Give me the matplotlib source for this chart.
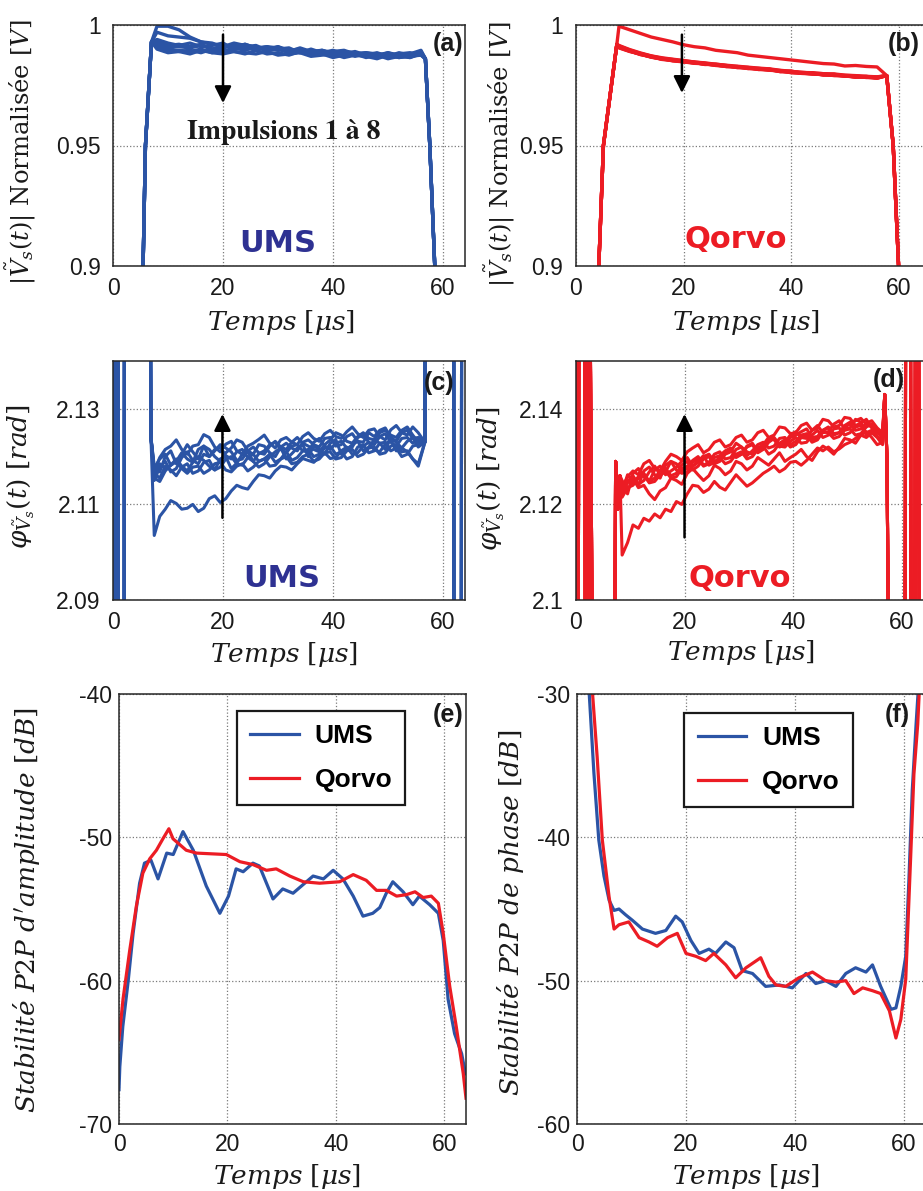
import numpy as np
import matplotlib
matplotlib.use('Agg')
import matplotlib.pyplot as plt

plt.rcParams['font.family'] = 'Liberation Sans'
plt.rcParams['mathtext.fontset'] = 'dejavuserif'

BLUE = '#2b54a5'
RED = '#ec1c24'
NAVY = '#2e3192'
INK = '#1a1a1a'

x_ticks = [0, 20, 40, 60]
x_tick_labels = ['0', '20', '40', '60']

# ---------------- (a) UMS amplitude, pulses 1..8 ----------------
a_rise_t = [5.3, 5.9, 7.0]
a_rise_v = [0.88, 0.95, 0.993]
a_plateau_t = np.arange(8, 57, 2)          # 8 .. 56 us
a_fall_t = [56.8, 57.6, 58.5, 58.9]
a_fall_v = [0.986, 0.95, 0.90, 0.88]

ums_amp_1 = [0.9995, 0.9995, 0.998, 0.995, 0.993,
             0.992, 0.9915, 0.991, 0.992, 0.9905,
             0.991, 0.9895, 0.990, 0.989, 0.9895,
             0.988, 0.989, 0.9885, 0.9875, 0.988,
             0.987, 0.9885, 0.9875, 0.988, 0.9895]
ums_amp_2 = [0.997, 0.9955, 0.995, 0.9945, 0.993,
             0.9925, 0.991, 0.9925, 0.9915, 0.990,
             0.991, 0.9905, 0.9895, 0.990, 0.9885,
             0.9895, 0.9885, 0.989, 0.988, 0.9885,
             0.9875, 0.9885, 0.987, 0.988, 0.9885]
ums_amp_3 = [0.993, 0.9915, 0.992, 0.991, 0.992,
             0.990, 0.9915, 0.9905, 0.992, 0.9905,
             0.990, 0.991, 0.989, 0.9905, 0.989,
             0.9885, 0.9895, 0.988, 0.989, 0.9875,
             0.9885, 0.987, 0.9885, 0.9875, 0.989]
ums_amp_4 = [0.992, 0.990, 0.989, 0.9895, 0.9885,
             0.990, 0.989, 0.9905, 0.9895, 0.991,
             0.9895, 0.990, 0.9885, 0.9895, 0.988,
             0.989, 0.9875, 0.9885, 0.987, 0.988,
             0.9865, 0.9875, 0.988, 0.9865, 0.9885]
ums_amp_5 = [0.994, 0.9925, 0.9915, 0.9925, 0.991,
             0.9915, 0.9925, 0.990, 0.991, 0.9915,
             0.9895, 0.991, 0.9895, 0.9885, 0.990,
             0.9885, 0.989, 0.9895, 0.988, 0.9885,
             0.988, 0.9865, 0.988, 0.9885, 0.9875]
ums_amp_6 = [0.991, 0.989, 0.9895, 0.989, 0.990,
             0.9885, 0.9895, 0.989, 0.988, 0.9895,
             0.988, 0.9885, 0.9875, 0.989, 0.9875,
             0.988, 0.9865, 0.9875, 0.988, 0.9865,
             0.9875, 0.986, 0.987, 0.9865, 0.988]
ums_amp_7 = [0.9935, 0.9905, 0.991, 0.9905, 0.9915,
             0.990, 0.9905, 0.9915, 0.990, 0.9905,
             0.9895, 0.990, 0.9905, 0.9885, 0.989,
             0.9895, 0.988, 0.989, 0.9885, 0.987,
             0.988, 0.9875, 0.9865, 0.9875, 0.988]
ums_amp_8 = [0.990, 0.9885, 0.989, 0.988, 0.9895,
             0.9885, 0.988, 0.989, 0.9885, 0.988,
             0.989, 0.9875, 0.988, 0.9885, 0.987,
             0.9875, 0.988, 0.9865, 0.9875, 0.987,
             0.986, 0.9875, 0.9865, 0.987, 0.9875]
ums_amp = [ums_amp_1, ums_amp_2, ums_amp_3, ums_amp_4,
           ums_amp_5, ums_amp_6, ums_amp_7, ums_amp_8]

# ---------------- (b) Qorvo amplitude ----------------
b_rise_t = [3.9, 5.1, 7.6]
b_rise_v = [0.88, 0.95, 0.992]
b_plateau_t = np.arange(8, 57, 2)
b_fall_t = [57.8, 59.0, 60.0, 60.3]
b_fall_v = [0.979, 0.95, 0.90, 0.88]

qorvo_amp_1 = [0.9995, 0.998, 0.9965, 0.995, 0.994,
               0.993, 0.9918, 0.991, 0.9905, 0.9895,
               0.989, 0.9885, 0.9875, 0.987, 0.9865,
               0.986, 0.9855, 0.985, 0.9845, 0.984,
               0.9838, 0.983, 0.9832, 0.9828, 0.9826]
qorvo_amp_2 = [0.9915, 0.9898, 0.9884, 0.9872, 0.9864,
               0.9858, 0.9853, 0.9846, 0.9843, 0.9837,
               0.9833, 0.9829, 0.9825, 0.9821, 0.9818,
               0.9812, 0.9808, 0.9803, 0.9802, 0.9798,
               0.9797, 0.9792, 0.9790, 0.9787, 0.9785]
qorvo_amp_3 = [0.9910, 0.9893, 0.9878, 0.9869, 0.9858,
               0.9853, 0.9848, 0.9843, 0.9838, 0.9834,
               0.9828, 0.9826, 0.9820, 0.9818, 0.9813,
               0.9809, 0.9803, 0.9800, 0.9799, 0.9794,
               0.9793, 0.9788, 0.9786, 0.9783, 0.9780]
qorvo_amp_4 = [0.9905, 0.9890, 0.9880, 0.9866, 0.9860,
               0.9851, 0.9847, 0.9841, 0.9839, 0.9832,
               0.9829, 0.9824, 0.9821, 0.9816, 0.9814,
               0.9807, 0.9804, 0.9799, 0.9797, 0.9795,
               0.9791, 0.9789, 0.9785, 0.9784, 0.9779]
qorvo_amp_5 = [0.9912, 0.9896, 0.9882, 0.9871, 0.9862,
               0.9856, 0.9851, 0.9847, 0.9841, 0.9836,
               0.9831, 0.9827, 0.9823, 0.9819, 0.9816,
               0.9811, 0.9806, 0.9804, 0.9800, 0.9798,
               0.9794, 0.9791, 0.9789, 0.9786, 0.9784]
qorvo_amp_6 = [0.9908, 0.9892, 0.9877, 0.9868, 0.9857,
               0.9854, 0.9849, 0.9842, 0.9840, 0.9833,
               0.9830, 0.9825, 0.9822, 0.9817, 0.9812,
               0.9810, 0.9802, 0.9801, 0.9796, 0.9796,
               0.9790, 0.9790, 0.9784, 0.9785, 0.9781]
qorvo_amp_7 = [0.9914, 0.9894, 0.9881, 0.9870, 0.9861,
               0.9852, 0.9850, 0.9844, 0.9837, 0.9835,
               0.9827, 0.9828, 0.9819, 0.9820, 0.9815,
               0.9808, 0.9807, 0.9801, 0.9798, 0.9793,
               0.9796, 0.9787, 0.9788, 0.9782, 0.9783]
qorvo_amp_8 = [0.9906, 0.9891, 0.9879, 0.9867, 0.9859,
               0.9857, 0.9846, 0.9845, 0.9836, 0.9838,
               0.9832, 0.9823, 0.9824, 0.9815, 0.9817,
               0.9806, 0.9809, 0.9800, 0.9801, 0.9792,
               0.9792, 0.9789, 0.9783, 0.9787, 0.9780]
qorvo_amp = [qorvo_amp_1, qorvo_amp_2, qorvo_amp_3, qorvo_amp_4,
             qorvo_amp_5, qorvo_amp_6, qorvo_amp_7, qorvo_amp_8]

# ---------------- (c) UMS phase ----------------
c_pre_t = [0.0, 0.15, 0.45, 0.75, 1.05, 2.0, 2.15, 6.3, 6.9]
c_pre_v = [2.0, 2.3, 2.0, 2.3, 2.0, 2.0, 2.3, 2.3, 2.124]
c_plateau_t = np.arange(7.5, 56, 1)        # 7.5 .. 55.5 us
c_post_t = [56.7, 57.3, 61.9, 62.0, 63.3, 63.45, 65.0]
c_post_v = [2.123, 2.3, 2.3, 2.0, 2.0, 2.3, 2.3]

ums_phase_1 = [2.1035, 2.1075, 2.1090, 2.1108, 2.1102,
               2.1090, 2.1092, 2.1100, 2.1085, 2.1092,
               2.1112, 2.1118, 2.1104, 2.1112, 2.1128,
               2.1140, 2.1135, 2.1132, 2.1148, 2.1162,
               2.1160, 2.1155, 2.1170, 2.1180, 2.1178,
               2.1172, 2.1185, 2.1196, 2.1192, 2.1188,
               2.1200, 2.1208, 2.1196, 2.1198, 2.1212,
               2.1220, 2.1205, 2.1208, 2.1222, 2.1230,
               2.1214, 2.1210, 2.1226, 2.1235, 2.1212,
               2.1218, 2.1232, 2.1240, 2.1220]
ums_phase_2 = [2.1170, 2.1198, 2.1215, 2.1222, 2.1235,
               2.1215, 2.1205, 2.1222, 2.1225, 2.1246,
               2.1240, 2.1220, 2.1210, 2.1226, 2.1232,
               2.1212, 2.1205, 2.1222, 2.1228, 2.1236,
               2.1245, 2.1228, 2.1218, 2.1235, 2.1240,
               2.1230, 2.1225, 2.1242, 2.1250, 2.1238,
               2.1232, 2.1248, 2.1255, 2.1242, 2.1238,
               2.1252, 2.1262, 2.1248, 2.1240, 2.1255,
               2.1258, 2.1242, 2.1235, 2.1256, 2.1265,
               2.1250, 2.1245, 2.1262, 2.1250]
ums_phase_3 = [2.1150, 2.1178, 2.1190, 2.1168, 2.1175,
               2.1198, 2.1210, 2.1192, 2.1185, 2.1205,
               2.1200, 2.1215, 2.1220, 2.1202, 2.1195,
               2.1210, 2.1215, 2.1198, 2.1190, 2.1206,
               2.1212, 2.1225, 2.1230, 2.1215, 2.1208,
               2.1222, 2.1225, 2.1212, 2.1210, 2.1230,
               2.1238, 2.1222, 2.1215, 2.1228, 2.1232,
               2.1218, 2.1220, 2.1240, 2.1245, 2.1230,
               2.1225, 2.1242, 2.1248, 2.1230, 2.1222,
               2.1238, 2.1240, 2.1228, 2.1235]
ums_phase_4 = [2.1160, 2.1185, 2.1175, 2.1182, 2.1195,
               2.1180, 2.1170, 2.1188, 2.1200, 2.1192,
               2.1180, 2.1172, 2.1195, 2.1200, 2.1175,
               2.1186, 2.1205, 2.1210, 2.1190, 2.1178,
               2.1185, 2.1200, 2.1210, 2.1218, 2.1195,
               2.1206, 2.1218, 2.1225, 2.1200, 2.1222,
               2.1215, 2.1205, 2.1228, 2.1236, 2.1205,
               2.1215, 2.1225, 2.1232, 2.1212, 2.1220,
               2.1235, 2.1228, 2.1215, 2.1238, 2.1230,
               2.1218, 2.1210, 2.1195, 2.1180]
ums_phase_5 = [2.1180, 2.1168, 2.1200, 2.1212, 2.1185,
               2.1205, 2.1225, 2.1210, 2.1195, 2.1222,
               2.1215, 2.1200, 2.1190, 2.1208, 2.1218,
               2.1235, 2.1230, 2.1212, 2.1205, 2.1225,
               2.1222, 2.1208, 2.1200, 2.1220, 2.1228,
               2.1218, 2.1212, 2.1230, 2.1235, 2.1225,
               2.1220, 2.1238, 2.1240, 2.1222, 2.1225,
               2.1242, 2.1248, 2.1232, 2.1230, 2.1250,
               2.1242, 2.1255, 2.1260, 2.1240, 2.1232,
               2.1250, 2.1255, 2.1238, 2.1240]
ums_phase_6 = [2.1165, 2.1155, 2.1180, 2.1172, 2.1160,
               2.1178, 2.1185, 2.1165, 2.1170, 2.1188,
               2.1192, 2.1172, 2.1178, 2.1195, 2.1200,
               2.1185, 2.1182, 2.1198, 2.1205, 2.1190,
               2.1195, 2.1205, 2.1188, 2.1195, 2.1210,
               2.1192, 2.1198, 2.1212, 2.1215, 2.1200,
               2.1205, 2.1218, 2.1222, 2.1205, 2.1210,
               2.1195, 2.1200, 2.1220, 2.1225, 2.1208,
               2.1212, 2.1228, 2.1230, 2.1212, 2.1218,
               2.1200, 2.1205, 2.1222, 2.1225]
ums_phase_7 = [2.1175, 2.1195, 2.1205, 2.1182, 2.1190,
               2.1208, 2.1195, 2.1188, 2.1215, 2.1222,
               2.1200, 2.1212, 2.1225, 2.1218, 2.1210,
               2.1192, 2.1195, 2.1212, 2.1220, 2.1208,
               2.1205, 2.1222, 2.1232, 2.1220, 2.1215,
               2.1230, 2.1240, 2.1228, 2.1222, 2.1215,
               2.1210, 2.1225, 2.1235, 2.1250, 2.1245,
               2.1232, 2.1228, 2.1242, 2.1250, 2.1238,
               2.1235, 2.1250, 2.1255, 2.1245, 2.1240,
               2.1255, 2.1262, 2.1245, 2.1230]
ums_phase_8 = [2.1155, 2.1148, 2.1170, 2.1182, 2.1190,
               2.1175, 2.1165, 2.1178, 2.1180, 2.1165,
               2.1172, 2.1185, 2.1188, 2.1172, 2.1168,
               2.1180, 2.1185, 2.1170, 2.1178, 2.1190,
               2.1195, 2.1180, 2.1182, 2.1195, 2.1200,
               2.1185, 2.1188, 2.1200, 2.1205, 2.1190,
               2.1195, 2.1208, 2.1210, 2.1195, 2.1198,
               2.1212, 2.1215, 2.1200, 2.1205, 2.1218,
               2.1220, 2.1205, 2.1208, 2.1222, 2.1225,
               2.1210, 2.1212, 2.1195, 2.1185]
ums_phase = [ums_phase_1, ums_phase_2, ums_phase_3, ums_phase_4,
             ums_phase_5, ums_phase_6, ums_phase_7, ums_phase_8]

# ---------------- (d) Qorvo phase ----------------
d_pre_t = [0.0, 0.1, 0.35, 0.6, 1.6, 1.75, 2.3, 2.4, 3.2, 7.0, 7.3, 7.7, 8.1]
d_pre_v = [2.05, 2.2, 2.05, 2.2, 2.2, 2.05, 2.05, 2.2, 2.05, 2.05, 2.129, 2.119, 2.126]
d_plateau_t = np.arange(8.5, 57, 1)        # 8.5 .. 56.5 us
d_post_t = [56.9, 57.3, 57.9, 60.6, 60.8, 61.6, 61.8, 62.4, 62.6, 63.1, 63.3, 65.0]
d_post_v = [2.143, 2.13, 2.05, 2.05, 2.2, 2.2, 2.05, 2.05, 2.2, 2.2, 2.05, 2.05]

qorvo_phase_1 = [2.1094, 2.1120, 2.1157, 2.1150, 2.1171,
                 2.1165, 2.1180, 2.1172, 2.1190, 2.1185,
                 2.1206, 2.1200, 2.1222, 2.1240, 2.1238,
                 2.1225, 2.1232, 2.1248, 2.1236, 2.1230,
                 2.1246, 2.1262, 2.1250, 2.1238, 2.1245,
                 2.1255, 2.1265, 2.1272, 2.1280, 2.1268,
                 2.1275, 2.1288, 2.1290, 2.1282, 2.1292,
                 2.1305, 2.1318, 2.1312, 2.1320, 2.1310,
                 2.1316, 2.1325, 2.1330, 2.1338, 2.1345,
                 2.1340, 2.1350, 2.1355, 2.1340]
qorvo_phase_2 = [2.1220, 2.1245, 2.1255, 2.1235, 2.1240,
                 2.1222, 2.1210, 2.1228, 2.1235, 2.1255,
                 2.1250, 2.1242, 2.1265, 2.1275, 2.1262,
                 2.1250, 2.1260, 2.1282, 2.1275, 2.1262,
                 2.1270, 2.1290, 2.1285, 2.1272, 2.1280,
                 2.1298, 2.1290, 2.1282, 2.1295, 2.1308,
                 2.1290, 2.1298, 2.1305, 2.1315, 2.1300,
                 2.1292, 2.1310, 2.1322, 2.1315, 2.1305,
                 2.1320, 2.1338, 2.1335, 2.1328, 2.1345,
                 2.1352, 2.1340, 2.1325, 2.1330]
qorvo_phase_3 = [2.1235, 2.1258, 2.1270, 2.1262, 2.1285,
                 2.1292, 2.1275, 2.1270, 2.1290, 2.1305,
                 2.1300, 2.1292, 2.1310, 2.1318, 2.1325,
                 2.1308, 2.1315, 2.1330, 2.1335, 2.1320,
                 2.1325, 2.1340, 2.1345, 2.1330, 2.1335,
                 2.1350, 2.1355, 2.1340, 2.1345, 2.1362,
                 2.1360, 2.1348, 2.1350, 2.1365, 2.1370,
                 2.1355, 2.1360, 2.1378, 2.1375, 2.1362,
                 2.1365, 2.1382, 2.1380, 2.1365, 2.1370,
                 2.1378, 2.1360, 2.1350, 2.1345]
qorvo_phase_4 = [2.1250, 2.1232, 2.1245, 2.1258, 2.1265,
                 2.1248, 2.1255, 2.1270, 2.1275, 2.1260,
                 2.1265, 2.1282, 2.1290, 2.1272, 2.1280,
                 2.1295, 2.1300, 2.1285, 2.1290, 2.1305,
                 2.1310, 2.1328, 2.1320, 2.1310, 2.1305,
                 2.1318, 2.1325, 2.1340, 2.1335, 2.1322,
                 2.1320, 2.1332, 2.1340, 2.1328, 2.1330,
                 2.1345, 2.1355, 2.1340, 2.1345, 2.1358,
                 2.1360, 2.1345, 2.1350, 2.1362, 2.1365,
                 2.1350, 2.1355, 2.1342, 2.1335]
qorvo_phase_5 = [2.1230, 2.1248, 2.1260, 2.1242, 2.1250,
                 2.1268, 2.1280, 2.1262, 2.1268, 2.1290,
                 2.1285, 2.1270, 2.1275, 2.1292, 2.1300,
                 2.1282, 2.1288, 2.1305, 2.1310, 2.1295,
                 2.1298, 2.1315, 2.1320, 2.1302, 2.1312,
                 2.1325, 2.1330, 2.1318, 2.1322, 2.1338,
                 2.1340, 2.1325, 2.1332, 2.1345, 2.1348,
                 2.1335, 2.1340, 2.1355, 2.1360, 2.1345,
                 2.1350, 2.1365, 2.1372, 2.1355, 2.1358,
                 2.1370, 2.1375, 2.1360, 2.1350]
qorvo_phase_6 = [2.1215, 2.1235, 2.1240, 2.1255, 2.1262,
                 2.1245, 2.1248, 2.1262, 2.1270, 2.1255,
                 2.1258, 2.1275, 2.1280, 2.1288, 2.1295,
                 2.1280, 2.1285, 2.1298, 2.1302, 2.1312,
                 2.1318, 2.1300, 2.1305, 2.1320, 2.1325,
                 2.1308, 2.1315, 2.1330, 2.1338, 2.1320,
                 2.1325, 2.1340, 2.1345, 2.1352, 2.1358,
                 2.1340, 2.1342, 2.1355, 2.1362, 2.1348,
                 2.1350, 2.1362, 2.1368, 2.1375, 2.1380,
                 2.1368, 2.1362, 2.1350, 2.1340]
qorvo_phase_7 = [2.1240, 2.1222, 2.1265, 2.1275, 2.1258,
                 2.1248, 2.1272, 2.1280, 2.1262, 2.1270,
                 2.1278, 2.1290, 2.1298, 2.1280, 2.1288,
                 2.1300, 2.1305, 2.1290, 2.1295, 2.1310,
                 2.1315, 2.1298, 2.1305, 2.1322, 2.1328,
                 2.1310, 2.1318, 2.1335, 2.1340, 2.1325,
                 2.1330, 2.1345, 2.1352, 2.1340, 2.1338,
                 2.1355, 2.1365, 2.1350, 2.1352, 2.1368,
                 2.1375, 2.1358, 2.1360, 2.1378, 2.1372,
                 2.1345, 2.1350, 2.1340, 2.1325]
qorvo_phase_8 = [2.1225, 2.1262, 2.1250, 2.1240, 2.1270,
                 2.1278, 2.1262, 2.1255, 2.1282, 2.1290,
                 2.1272, 2.1265, 2.1268, 2.1280, 2.1290,
                 2.1302, 2.1282, 2.1288, 2.1298, 2.1285,
                 2.1290, 2.1305, 2.1310, 2.1295, 2.1300,
                 2.1315, 2.1322, 2.1305, 2.1312, 2.1328,
                 2.1335, 2.1320, 2.1325, 2.1340, 2.1345,
                 2.1330, 2.1335, 2.1352, 2.1350, 2.1338,
                 2.1342, 2.1355, 2.1358, 2.1345, 2.1348,
                 2.1362, 2.1368, 2.1352, 2.1345]
qorvo_phase = [qorvo_phase_1, qorvo_phase_2, qorvo_phase_3, qorvo_phase_4,
               qorvo_phase_5, qorvo_phase_6, qorvo_phase_7, qorvo_phase_8]

# ---------------- (e) P2P amplitude stability ----------------
ums_p2p_amp_t = [0.0, 0.15, 0.7, 1.7, 2.6, 3.8, 4.7, 5.9, 7.2, 8.8,
                 10.0, 11.8, 13.7, 16.1, 18.6, 20.2, 21.6, 22.9, 24.7, 25.9,
                 28.4, 30.2, 32.1, 35.8, 37.7, 39.5, 41.3, 43.2, 45.0, 46.8,
                 48.1, 49.3, 50.5, 52.4, 54.2, 55.4, 57.3, 58.9, 59.8, 60.7,
                 61.9, 63.2, 63.9]
ums_p2p_amp = [-67.6, -66.0, -63.2, -60.0, -56.7, -53.2, -51.8, -51.6, -52.9, -51.1,
               -51.2, -49.6, -50.9, -53.4, -55.3, -54.1, -52.2, -52.4, -51.8, -52.0,
               -54.3, -53.6, -53.9, -52.7, -52.9, -52.3, -52.9, -54.1, -55.5, -55.3,
               -54.9, -53.9, -53.1, -53.8, -54.7, -54.1, -54.7, -55.3, -57.2, -61.3,
               -63.7, -65.1, -66.5]
qorvo_p2p_amp_t = [0.0, 0.74, 1.97, 3.2, 4.4, 5.66, 6.9, 8.1, 9.2, 9.96,
                   12.4, 14.3, 19.8, 22.3, 24.7, 27.2, 29.0, 31.5, 34.0, 37.0,
                   40.7, 43.2, 45.6, 47.5, 49.3, 51.2, 53.0, 54.6, 56.1, 57.6,
                   58.9, 59.8, 61.0, 62.2, 63.5, 64.0]
qorvo_p2p_amp = [-64.1, -61.3, -57.9, -54.8, -52.5, -51.5, -50.9, -50.1, -49.4, -50.1,
                 -50.9, -51.1, -51.2, -51.7, -51.9, -52.3, -52.2, -52.7, -53.1, -53.2,
                 -53.1, -52.6, -53.0, -53.7, -53.7, -54.1, -54.0, -53.8, -54.2, -54.1,
                 -54.6, -56.7, -60.4, -63.2, -66.5, -68.2]

# ---------------- (f) P2P phase stability ----------------
ums_p2p_phase_t = [1.9, 2.2, 3.1, 4.0, 4.95, 5.9, 6.8, 7.7, 8.9, 10.2,
                   12.0, 14.4, 16.3, 18.1, 19.3, 20.9, 22.4, 24.2, 25.4, 27.3,
                   28.8, 30.3, 32.2, 34.6, 37.1, 39.5, 42.0, 43.8, 45.6, 47.5,
                   49.3, 51.1, 53.0, 54.2, 55.7, 57.6, 58.5, 59.4, 60.3, 60.9,
                   61.5, 62.2, 62.6, 62.8]
ums_p2p_phase = [-27.0, -29.7, -35.5, -40.2, -42.7, -44.4, -45.1, -45.0, -45.4, -45.8,
                 -46.4, -46.7, -46.5, -45.5, -45.9, -47.2, -48.1, -47.8, -48.1, -47.3,
                 -47.7, -49.3, -49.5, -50.4, -50.3, -50.5, -49.5, -50.2, -50.0, -50.4,
                 -49.5, -49.1, -49.4, -48.9, -50.4, -52.0, -51.9, -50.4, -48.3, -42.8,
                 -36.7, -32.1, -29.7, -27.0]
qorvo_p2p_phase_t = [2.5, 2.8, 3.7, 4.65, 5.9, 6.8, 7.7, 9.5, 11.4, 13.2,
                     14.7, 16.6, 18.4, 20.0, 21.8, 23.6, 25.1, 27.3, 29.1, 31.0,
                     33.7, 35.2, 36.5, 38.3, 40.7, 43.2, 45.6, 47.5, 49.3, 50.8,
                     52.4, 54.2, 55.7, 57.3, 58.5, 59.4, 60.3, 61.2, 61.8, 62.5,
                     62.8, 63.0]
qorvo_p2p_phase = [-27.0, -29.7, -34.4, -40.2, -44.2, -46.4, -46.1, -45.9, -47.0, -47.3,
                   -47.6, -47.0, -46.7, -48.1, -48.3, -48.6, -48.1, -48.9, -49.8, -49.1,
                   -48.4, -49.7, -50.3, -50.4, -49.8, -49.4, -50.0, -50.1, -50.0, -50.9,
                   -50.5, -50.7, -50.9, -52.1, -54.0, -52.7, -49.9, -41.4, -35.6, -32.1,
                   -29.7, -27.0]

# ---------------- figure ----------------
fig = plt.figure(figsize=(9.23, 11.91), dpi=100)
W, H = 923.0, 1191.0


def add_axes(left, top, right, bottom):
    # pixel box of the reference -> figure fraction
    return fig.add_axes([left / W, 1 - bottom / H, (right - left) / W, (bottom - top) / H])


def style(ax, xlim, ylim, yticks, ylabels, ypad, xpad):
    ax.set_xlim(*xlim)
    ax.set_ylim(*ylim)
    ax.set_xticks(x_ticks)
    ax.set_xticklabels(x_tick_labels)
    ax.set_yticks(yticks)
    ax.set_yticklabels(ylabels)
    ax.grid(True, linestyle=':', color='#7a7a7a', linewidth=0.9)
    ax.tick_params(length=0, labelsize=16.5, colors=INK)
    ax.tick_params(axis='y', pad=ypad)
    ax.tick_params(axis='x', pad=xpad)
    for sp in ax.spines.values():
        sp.set_linewidth(1.1)
        sp.set_color('#262626')


def axis_labels(ax, xlabel, ylabel, xpos, ypos, ysize=19):
    ax.set_xlabel(xlabel, fontsize=19, family='DejaVu Serif', color=INK)
    ax.set_ylabel(ylabel, fontsize=ysize, family='DejaVu Serif', color=INK)
    ax.xaxis.set_label_coords(*xpos)
    ax.yaxis.set_label_coords(*ypos)


def arrow(ax, tail, tip):
    ax.annotate('', xy=tip, xytext=tail,
                arrowprops=dict(arrowstyle='-|>,head_length=0.5,head_width=0.25',
                                color='black', lw=1.8, mutation_scale=20,
                                shrinkA=0, shrinkB=0))


def panel_tag(ax, tag, x, y):
    ax.text(x, y, tag, transform=ax.transAxes, ha='right', va='center',
            fontsize=18, fontweight='bold', color=INK)


def brand(ax, label, x, y, color):
    ax.text(x, y, label, ha='center', va='baseline', fontsize=22,
            family='DejaVu Sans', fontweight='bold', color=color)


xlab = r'$Temps\ [\mu s]$'
amp_lab = r'$|\tilde{V}_s(t)|$ Normalisée $[V]$'
phase_lab = r'$\varphi_{\tilde{V}_s}(t)\ [rad]$'

ax_a = add_axes(113, 25, 465, 266)
ax_b = add_axes(576, 25, 926, 266)
ax_c = add_axes(113, 361, 465, 600)
ax_d = add_axes(576, 361, 926, 600)
ax_e = add_axes(119, 694, 466, 1124)
ax_f = add_axes(577, 694, 927, 1124)

# (a)
t = np.concatenate([a_rise_t, a_plateau_t, a_fall_t])
for v in ums_amp:
    ax_a.plot(t, np.concatenate([a_rise_v, v, a_fall_v]), color=BLUE, lw=2.4)
style(ax_a, (0, 64), (0.9, 1.0), [0.9, 0.95, 1.0], ['0.9', '0.95', '1'], 9, 8)
axis_labels(ax_a, xlab, amp_lab, (0.477, -0.174), (-0.213, 0.47), 17.5)
arrow(ax_a, (20, 0.996), (20, 0.9676))
ax_a.text(31.0, 0.9526, 'Impulsions 1 à 8', ha='center', va='baseline',
          family='STIXGeneral', fontweight='bold', fontsize=20, color=INK)
brand(ax_a, 'UMS', 30.0, 0.9059, NAVY)
panel_tag(ax_a, '(a)', 0.995, 0.92)

# (b)
t = np.concatenate([b_rise_t, b_plateau_t, b_fall_t])
for v in qorvo_amp:
    ax_b.plot(t, np.concatenate([b_rise_v, v, b_fall_v]), color=RED, lw=2.4)
style(ax_b, (0, 65.1), (0.9, 1.0), [0.9, 0.95, 1.0], ['0.9', '0.95', '1'], 9, 8)
axis_labels(ax_b, xlab, amp_lab, (0.485, -0.174), (-0.169, 0.465), 17.5)
arrow(ax_b, (19.7, 0.996), (19.7, 0.9718))
brand(ax_b, 'Qorvo', 29.7, 0.9073, RED)
panel_tag(ax_b, '(b)', 0.983, 0.92)

# (c)
t = np.concatenate([c_pre_t, c_plateau_t, c_post_t])
for v in ums_phase:
    ax_c.plot(t, np.concatenate([c_pre_v, v, c_post_v]), color=BLUE, lw=2.2)
style(ax_c, (0, 64), (2.09, 2.14), [2.09, 2.11, 2.13], ['2.09', '2.11', '2.13'], 9, 8)
axis_labels(ax_c, xlab, phase_lab, (0.486, -0.167), (-0.216, 0.517))
arrow(ax_c, (19.9, 2.1072), (19.9, 2.1289))
brand(ax_c, 'UMS', 30.7, 2.0928, NAVY)
panel_tag(ax_c, '(c)', 0.97, 0.91)

# (d)
t = np.concatenate([d_pre_t, d_plateau_t, d_post_t])
for v in qorvo_phase:
    ax_d.plot(t, np.concatenate([d_pre_v, v, d_post_v]), color=RED, lw=2.2)
style(ax_d, (0, 64.5), (2.10, 2.15), [2.10, 2.12, 2.14], ['2.1', '2.12', '2.14'], 9, 8)
axis_labels(ax_d, xlab, phase_lab, (0.471, -0.158), (-0.197, 0.51))
arrow(ax_d, (20.0, 2.1131), (20.0, 2.1389))
brand(ax_d, 'Qorvo', 30.1, 2.1028, RED)
panel_tag(ax_d, '(d)', 0.94, 0.92)

# (e)
ax_e.plot(ums_p2p_amp_t, ums_p2p_amp, color=BLUE, lw=2.3, label='UMS')
ax_e.plot(qorvo_p2p_amp_t, qorvo_p2p_amp, color=RED, lw=2.3, label='Qorvo')
style(ax_e, (0, 64), (-70, -40), [-70, -60, -50, -40], ['-70', '-60', '-50', '-40'], 5, 6.5)
axis_labels(ax_e, xlab, r"$Stabilit\acute{e}\ P2P\ d'amplitude\ [dB]$",
            (0.483, -0.0876), (-0.219, 0.498))
panel_tag(ax_e, '(e)', 0.994, 0.951)

# (f)
ax_f.plot(ums_p2p_phase_t, ums_p2p_phase, color=BLUE, lw=2.3, label='UMS')
ax_f.plot(qorvo_p2p_phase_t, qorvo_p2p_phase, color=RED, lw=2.3, label='Qorvo')
style(ax_f, (0, 64.2), (-60, -30), [-60, -50, -40, -30], ['-60', '-50', '-40', '-30'], 5, 6.5)
axis_labels(ax_f, xlab, r'$Stabilit\acute{e}\ P2P\ de\ phase\ [dB]$',
            (0.484, -0.0876), (-0.143, 0.492))
panel_tag(ax_f, '(f)', 0.951, 0.951)

for ax, anchor in [(ax_e, (0.339, 0.961)), (ax_f, (0.3066, 0.956))]:
    leg = ax.legend(loc='upper left', bbox_to_anchor=anchor, borderaxespad=0,
                    frameon=True, fancybox=False, edgecolor=INK, framealpha=1,
                    prop=dict(family='Liberation Sans', weight='bold', size=19),
                    handlelength=1.85, handletextpad=0.6, labelspacing=0.75,
                    borderpad=0.5)
    leg.get_frame().set_linewidth(1.6)

fig.savefig('out.png', dpi=100)
